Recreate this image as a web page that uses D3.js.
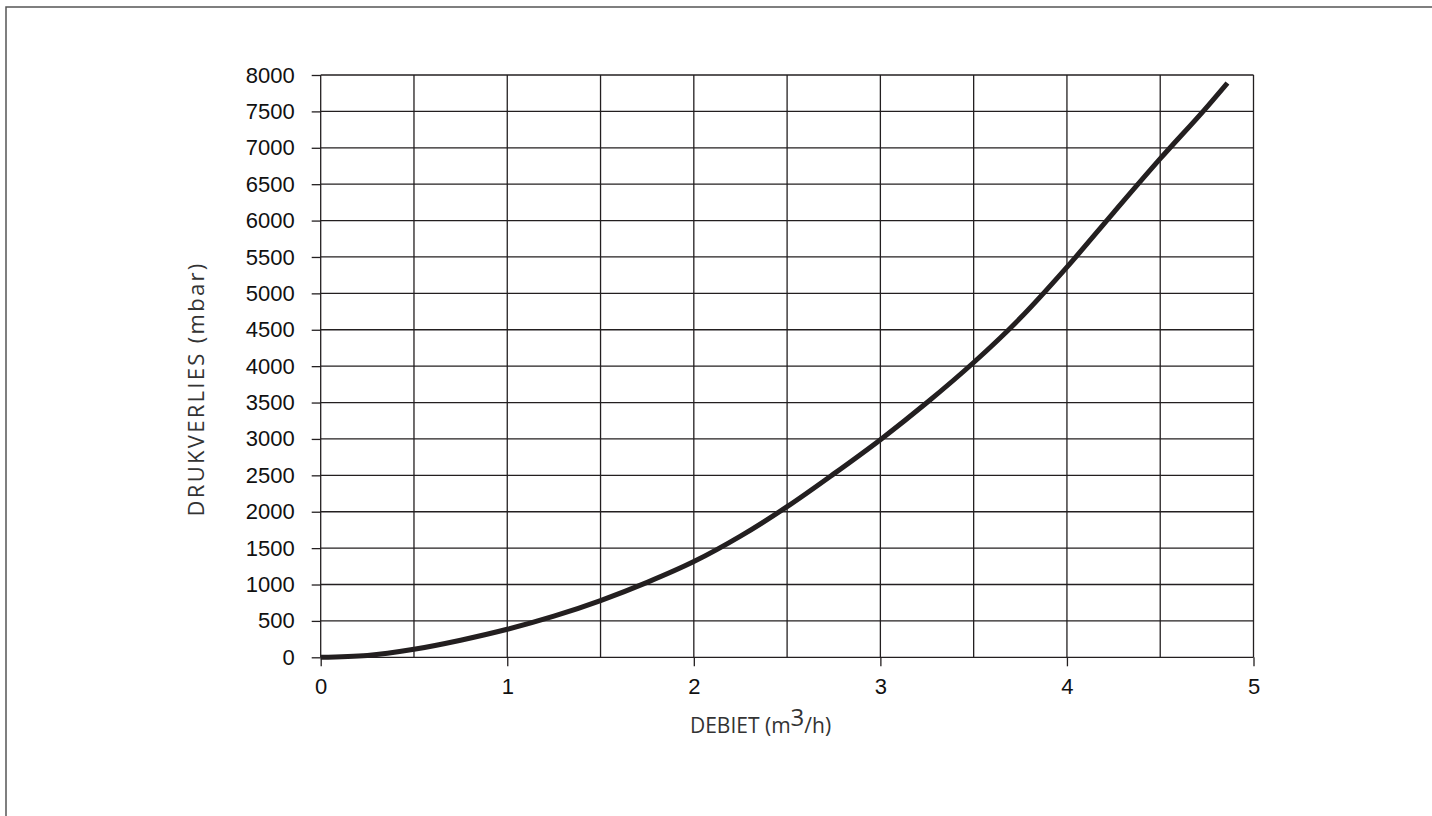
<!doctype html>
<html lang="nl">
<head>
    <meta charset="UTF-8">
    <script src="https://cdnjs.cloudflare.com/ajax/libs/d3/7.8.5/d3.min.js"></script>
    <title>Drukverlies</title>
    <style>
        body { margin: 0; background: #fff; }
    </style>
</head>
<body>

<div id="Area"></div>

<script>
    const debiet = [0, 0.25, 0.5, 0.75, 1, 1.25, 1.5, 1.75, 2, 2.25, 2.5, 2.75, 3, 3.25, 3.5, 3.75, 4, 4.25, 4.5, 4.75, 4.86];
    const drukverlies = [0, 25, 110, 235, 385, 565, 780, 1030, 1315, 1665, 2070, 2520, 2990, 3500, 4050, 4660, 5360, 6110, 6850, 7560, 7890];

    const xTicks = [0, 1, 2, 3, 4, 5];
    const xGrid = [0, 0.5, 1, 1.5, 2, 2.5, 3, 3.5, 4, 4.5, 5];
    const yTicks = d3.range(0, 8001, 500);

    const W = 1432, H = 816;
    const ink = "#231f20";

    const svg = d3.select("#Area")
        .append("svg")
        .attr("width", W)
        .attr("height", H);

    // kader rond de figuur (alleen links en boven zichtbaar)
    svg.append("rect")
        .attr("x", 6).attr("y", 7)
        .attr("width", W + 20).attr("height", H + 20)
        .attr("fill", "none")
        .attr("stroke", "#555")
        .attr("stroke-width", 1.5);

    const x = d3.scaleLinear().domain([0, 5]).range([320.7, 1253.5]);
    const y = d3.scaleLinear().domain([0, 8000]).range([657.3, 75]);

    const g = svg.append("g");

    // raster
    g.selectAll("line.vgrid")
        .data(xGrid)
        .join("line")
        .attr("class", "vgrid")
        .attr("x1", d => x(d)).attr("x2", d => x(d))
        .attr("y1", y(0)).attr("y2", y(8000))
        .attr("stroke", ink).attr("stroke-width", 1.3);

    g.selectAll("line.hgrid")
        .data(yTicks)
        .join("line")
        .attr("class", "hgrid")
        .attr("x1", x(0)).attr("x2", x(5))
        .attr("y1", d => y(d)).attr("y2", d => y(d))
        .attr("stroke", ink).attr("stroke-width", 1.3);

    // assen
    const yAxis = d3.axisLeft(y).tickValues(yTicks).tickSize(9).tickPadding(17).tickFormat(d3.format("d"));
    const xAxis = d3.axisBottom(x).tickValues(xTicks).tickSize(9).tickPadding(12).tickFormat(d3.format("d"));

    const ya = g.append("g").attr("transform", `translate(${x(0)},0)`).call(yAxis);
    const xa = g.append("g").attr("transform", `translate(0,${y(0)})`).call(xAxis);

    [ya, xa].forEach(a => {
        a.select(".domain").remove();
        a.selectAll(".tick line").attr("stroke", ink).attr("stroke-width", 1.3);
        a.selectAll(".tick text")
            .attr("fill", "#111")
            .style("font-family", "'Liberation Sans', Arial, sans-serif")
            .style("font-size", "22px");
    });

    // curve
    const pts = debiet.map((d, i) => [d, drukverlies[i]]);
    const line = d3.line()
        .x(d => x(d[0]))
        .y(d => y(d[1]))
        .curve(d3.curveMonotoneX);

    g.append("path")
        .datum(pts)
        .attr("d", line)
        .attr("fill", "none")
        .attr("stroke", ink)
        .attr("stroke-width", 5);

    // astitels
    const xt = svg.append("text")
        .attr("x", 760.5).attr("y", 733)
        .attr("text-anchor", "middle")
        .attr("fill", "#333")
        .style("font-family", "'Open Sans', sans-serif")
        .style("font-size", "21px");
    xt.append("tspan").text("DEBIET (m");
    xt.append("tspan").attr("dy", -7).style("font-size", "24px").text("3");
    xt.append("tspan").attr("dy", 7).text("/h)");

    svg.append("text")
        .attr("transform", "translate(204,389) rotate(-90)")
        .attr("text-anchor", "middle")
        .attr("fill", "#333")
        .style("font-family", "'Open Sans', sans-serif")
        .style("font-size", "22px")
        .style("letter-spacing", "2.3px")
        .text("DRUKVERLIES (mbar)");
</script>
</body>
</html>
